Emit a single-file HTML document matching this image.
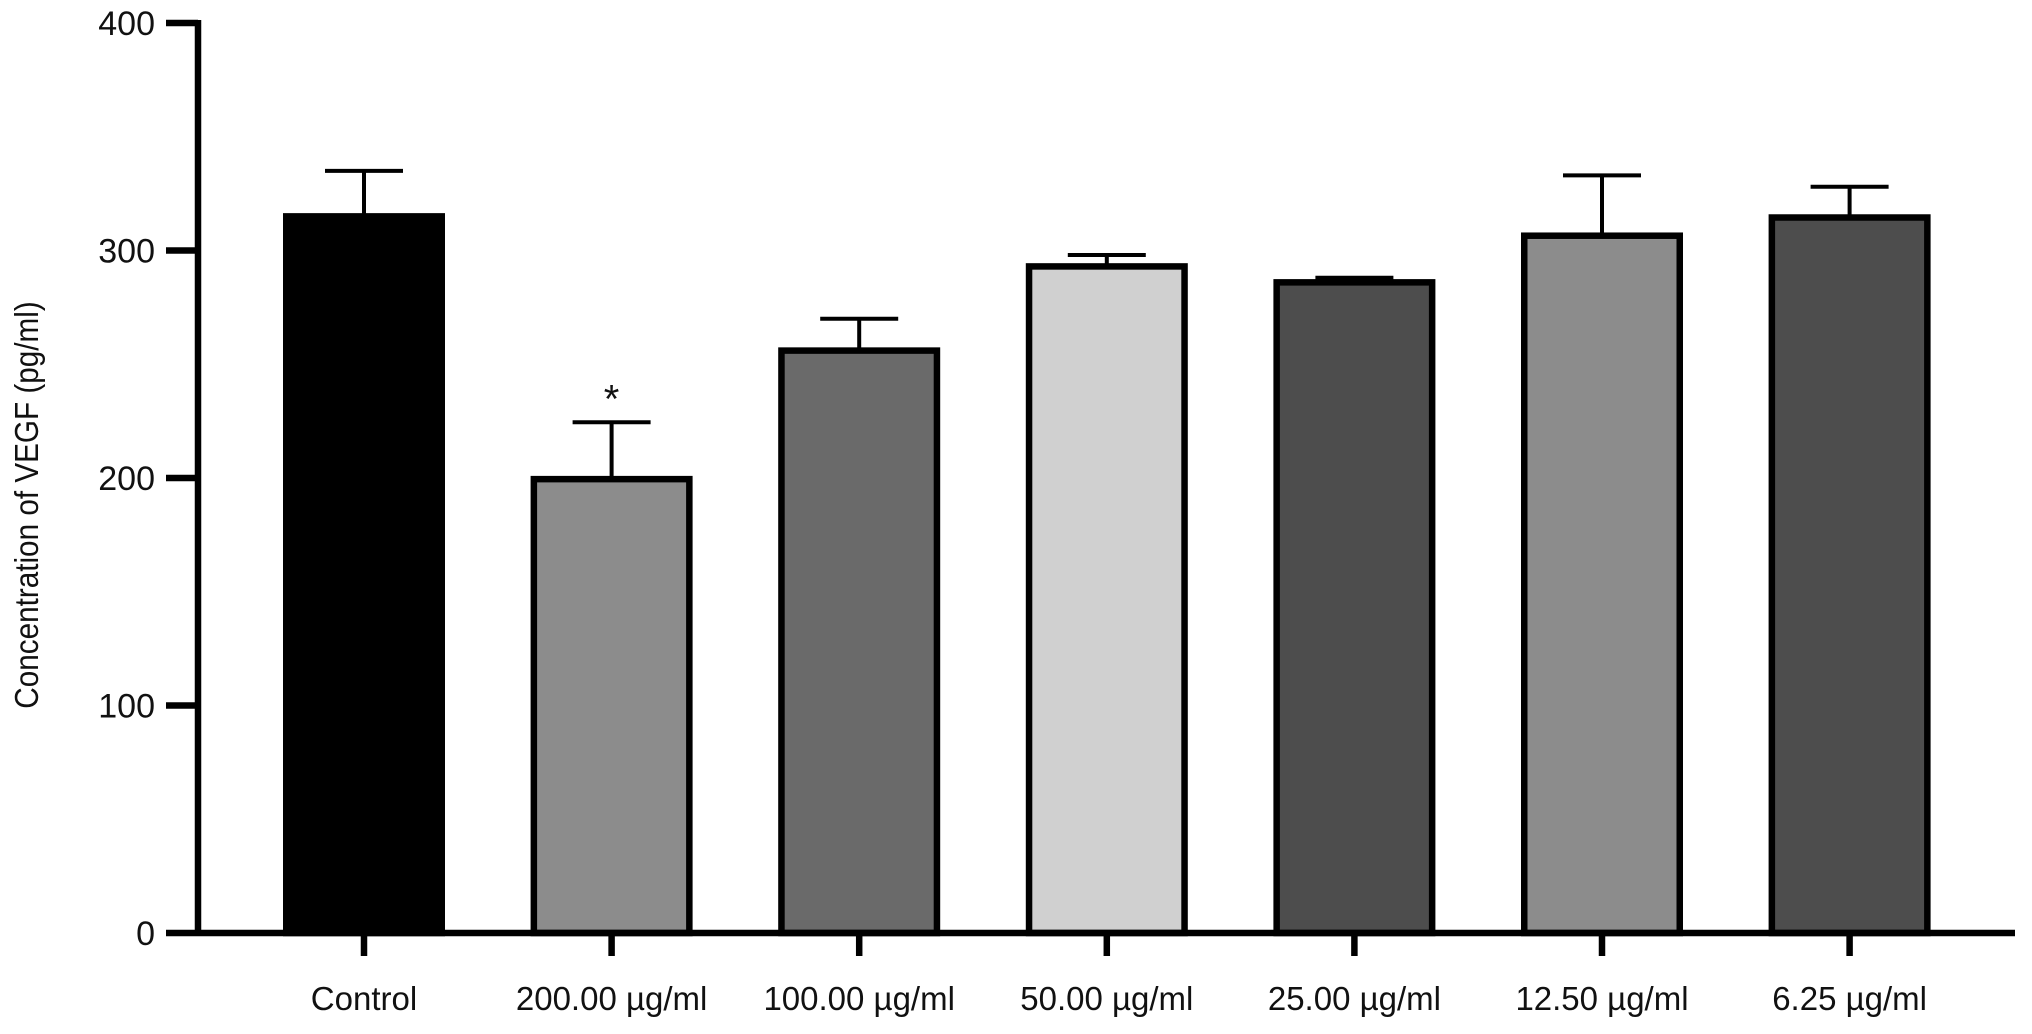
<!DOCTYPE html>
<html><head><meta charset="utf-8"><style>
body{margin:0;background:#fff;}
svg text{font-family:"Liberation Sans",Arial,sans-serif;fill:#111;}
</style></head><body>
<svg id="chart" width="2032" height="1029" viewBox="0 0 2032 1029">
<g id="bars"></g>
<g id="axes"></g>
<text x="0" y="0" font-size="33" text-anchor="middle" transform="translate(38,505) rotate(-90) scale(0.9,1)">Concentration of VEGF (pg/ml)</text>
</svg>
<script>
const categories = ["Control","200.00 µg/ml","100.00 µg/ml","50.00 µg/ml","25.00 µg/ml","12.50 µg/ml","6.25 µg/ml"];
const means = [315, 199.5, 256, 293, 286, 306.5, 314.5];
const errors = [20, 25, 14, 5, 2, 26.5, 13.5];
const colors = ["#000000","#8c8c8c","#6a6a6a","#d0d0d0","#4d4d4d","#8c8c8c","#4d4d4d"];
const significant = [false,true,false,false,false,false,false];
const yTicks = [0,100,200,300,400];

const NS="http://www.w3.org/2000/svg";
const y0=933, yTop=23, yMax=400;
const yScale=v=>y0-(v/yMax)*(y0-yTop);
const xLeft=198, step=247.6, first=364;
const xScale=i=>first+i*step;
const barW=162;
function mk(tag,attrs,parent){const e=document.createElementNS(NS,tag);for(const k in attrs)e.setAttribute(k,attrs[k]);parent.appendChild(e);return e;}
const gb=document.getElementById('bars'), ga=document.getElementById('axes');
categories.forEach((c,i)=>{
  const cx=xScale(i), top=yScale(means[i]), et=yScale(means[i]+errors[i]);
  const eb=mk('line',{x1:cx,x2:cx,y1:top,y2:et,stroke:'#000','stroke-width':4},gb);
  
  
  const cap=mk('line',{x1:cx-39,x2:cx+39,y1:et,y2:et,stroke:'#000','stroke-width':4},gb);
  
  
  const r=mk('rect',{x:cx-barW/2+3.25,y:top,width:barW-6.5,height:y0-top,fill:colors[i],stroke:'#000','stroke-width':6.5},gb);
  
  
  if(significant[i]){const s=mk('text',{x:cx,y:et-10,'font-size':40,'text-anchor':'middle'},gb);s.textContent='*';
    
    }
  const t=mk('line',{x1:cx,x2:cx,y1:y0,y2:956,stroke:'#000','stroke-width':6.5},ga);
  
  
  const l=mk('text',{x:cx,y:1010,'font-size':33,'text-anchor':'middle'},ga);l.textContent=c;
  
  
});
yTicks.forEach(v=>{
  const y=yScale(v);
  const t=mk('line',{x1:166,x2:xLeft,y1:y,y2:y,stroke:'#000','stroke-width':6.5},ga);
  
  
  const l=mk('text',{x:155,y:y+12,'font-size':34,'text-anchor':'end'},ga);l.textContent=v;
  
  
});
const ya=mk('line',{x1:xLeft,x2:xLeft,y1:yTop-3,y2:y0+3,stroke:'#000','stroke-width':6.5},ga);


const xa=mk('line',{x1:xLeft,x2:2015,y1:y0,y2:y0,stroke:'#000','stroke-width':6.5},ga);


</script>
</body></html>
